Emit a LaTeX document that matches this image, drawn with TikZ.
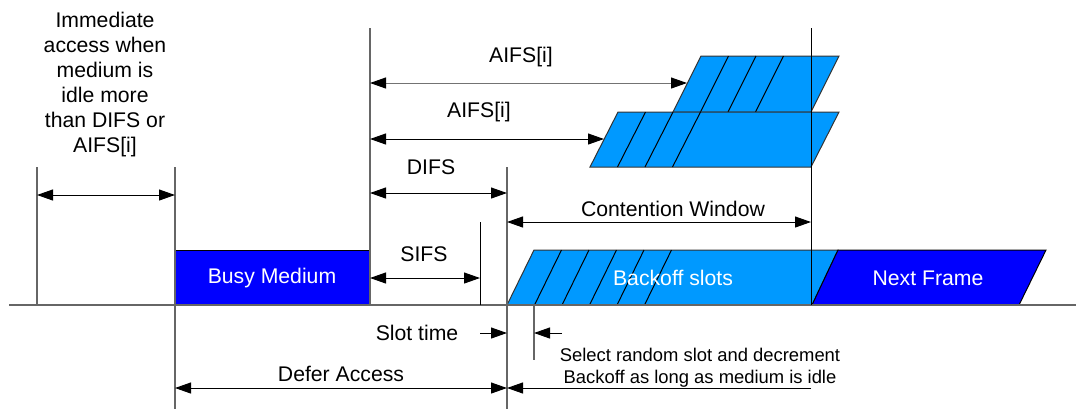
\documentclass[tikz,border=0pt]{standalone}
\usepackage{fontspec}
\setmainfont{Liberation Sans}
\usetikzlibrary{arrows.meta}
\definecolor{busyblue}{RGB}{0,0,255}
\definecolor{slotblue}{RGB}{0,153,255}
\begin{document}
\begin{tikzpicture}[x=0.5pt,y=-0.5pt] % 1 unit = 1 pixel of the sketch
\tikzstyle{tline} = [draw=black!60, line width=0.6pt] % vertical time marks
\tikzstyle{dim} = [black, line width=0.5pt, {Triangle[length=8pt,width=5.5pt,color=black]}-{Triangle[length=8pt,width=5.5pt,color=black]}] % interval arrow
\tikzstyle{half} = [black, line width=0.5pt, -{Triangle[length=8pt,width=5.5pt]}] % one-sided arrow
\tikzstyle{lbl} = [font=\fontsize{10.6}{12.5}\selectfont, inner sep=0pt, align=center] % text
\tikzstyle{small} = [font=\fontsize{9.2}{11}\selectfont, inner sep=0pt, align=center] % smaller text
\tikzstyle{busy} = [draw=black, line width=0.5pt, fill=busyblue] % frames on the medium
\tikzstyle{slots} = [draw=black!80, line width=0.5pt, fill=slotblue] % backoff slots
\useasboundingbox (0,0) rectangle (1076,409);
% time points on the medium line
\coordinate (b0) at (9,305);
\coordinate (b1) at (1076,305);
\coordinate (t0) at (37,305);
\coordinate (t1) at (175,305);
\coordinate (t2) at (370,305);
\coordinate (t3) at (480,305);
\coordinate (t4) at (507,305);
\coordinate (s1) at (534,305);
\coordinate (s2) at (562,305);
\coordinate (t5) at (811,305);
\coordinate (a1) at (687,83);
\coordinate (a2) at (604,139);
% heights
\coordinate (yTop) at (0,28);
\coordinate (yMid) at (0,167);
\coordinate (yImm) at (0,195);
\coordinate (yDIFS) at (0,193);
\coordinate (yCW) at (0,222);
\coordinate (ySIFS) at (0,278);
\coordinate (ySlot) at (0,333);
\coordinate (ySel) at (0,360);
\coordinate (yDef) at (0,388);
\coordinate (yBot) at (0,409);
% frames
\draw[busy] (175,250) rectangle (370,305);
\filldraw[slots] (507,305) -- (534,250) -- (838,250) -- (812,305) -- cycle;
\foreach \k in {1,...,5} \draw[black, line width=0.5pt] (507+27.5*\k,305) -- (534+27.5*\k,250);
\filldraw[busy] (812,305) -- (838,250) -- (1046,250) -- (1019,305) -- cycle;
\filldraw[slots] (673,112) -- (701,56) -- (839,56) -- (811,112) -- cycle;
\foreach \k in {1,2,3} \draw[black, line width=0.5pt] (673+27.5*\k,112) -- (701+27.5*\k,56);
\filldraw[slots] (590,167) -- (618,112) -- (839,112) -- (811,167) -- cycle;
\foreach \k in {1,2,3} \draw[black, line width=0.5pt] (590+27.5*\k,167) -- (618+27.5*\k,112);
% medium line and time marks
\draw[tline] (b0) -- (b1);
\draw[tline] (t0 |- yMid) -- (t0);
\draw[tline] (t1 |- yMid) -- (t1 |- yBot);
\draw[tline] (t2 |- yTop) -- (t2);
\draw[tline, draw=black, line width=0.45pt] (t3 |- yCW) -- (t3);
\draw[tline] (t4 |- yMid) -- (t4 |- yBot);
\draw[tline, draw=black, line width=0.45pt] (t5 |- yTop) -- (t5);
\draw[tline] (s1) -- (s1 |- ySel);
% intervals
\draw[dim] (t0 |- yImm) -- (t1 |- yImm);
\draw[dim, draw=black!55] (t2 |- a1) -- (a1);
\draw[dim] (t2 |- a2) -- (a2);
\draw[dim] (t2 |- yDIFS) -- (t4 |- yDIFS);
\draw[dim] (t4 |- yCW) -- (t5 |- yCW);
\draw[dim] (t2 |- ySIFS) -- (t3 |- ySIFS);
\draw[half] (t3 |- ySlot) -- (t4 |- ySlot);
\draw[half] (s2 |- ySlot) -- (s1 |- ySlot);
\draw[dim] (t1 |- yDef) -- (t4 |- yDef);
\draw[half] (t5 |- yDef) -- (t4 |- yDef);
% labels
\node[lbl] (imm) at (105,85) {Immediate\\access when\\medium is\\idle more\\than DIFS or\\AIFS[i]};
\node[lbl] (aifs1) at (521,57) {AIFS[i]};
\node[lbl] (aifs2) at (479,112) {AIFS[i]};
\node[lbl] (difs) at (431,167) {DIFS};
\node[lbl] (cw) at (673,209) {Contention Window};
\node[lbl] (sifs) at (424,254) {SIFS};
\node[lbl, white] (busy) at (272,278) {Busy Medium};
\node[lbl, white] (backoff) at (673,278) {Backoff slots};
\node[lbl, white] (next) at (928,278) {Next Frame};
\node[lbl] (slot) at (417,333) {Slot time};
\node[small] (sel) at (700,368) {Select random slot and decrement\\Backoff as long as medium is idle};
\node[lbl] (defer) at (341,374) {Defer Access};
\end{tikzpicture}
\end{document}
